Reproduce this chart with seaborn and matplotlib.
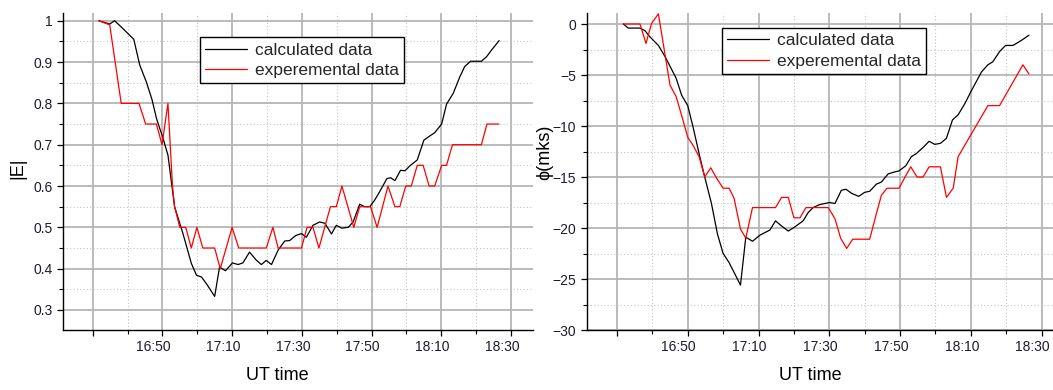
import numpy as np
import pandas as pd
import matplotlib
matplotlib.use("Agg")
import matplotlib.pyplot as plt
import matplotlib.transforms as mtransforms
from matplotlib.ticker import FixedLocator, FixedFormatter, MultipleLocator
import seaborn as sns

# ---- data (time in minutes after 16:30) ----
left_calc_t = [1.8, 4.9, 6.3, 8.2, 10.0, 11.8, 13.5, 15.4, 17.0, 18.3, 20.2, 21.6, 23.5, 25.9, 28.3,
               29.8, 31.2, 32.6, 35.0, 36.4, 38.1, 40.1, 41.7, 43.1, 45.0, 47.0, 48.4, 49.8, 51.3,
               53.2, 55.1, 56.5, 58.2, 59.9, 61.3, 63.2, 65.1, 66.6, 68.5, 69.9, 71.4, 73.3, 74.7,
               76.6, 78.0, 79.5, 80.9, 82.3, 84.4, 85.5, 86.7, 88.3, 89.6, 91.0, 93.1, 95.0, 96.5,
               98.1, 100.1, 101.5, 103.4, 105.3, 106.7, 108.4, 111.5, 113.0, 114.4, 116.6]
left_calc_v = [1.0, 0.992, 1.0, 0.985, 0.97, 0.955, 0.893, 0.852, 0.81, 0.764, 0.715, 0.675, 0.55,
               0.485, 0.413, 0.384, 0.38, 0.364, 0.333, 0.404, 0.395, 0.414, 0.41, 0.414, 0.44, 0.42,
               0.41, 0.42, 0.41, 0.445, 0.467, 0.468, 0.48, 0.485, 0.476, 0.505, 0.513, 0.51, 0.484,
               0.505, 0.498, 0.50, 0.513, 0.556, 0.55, 0.55, 0.566, 0.586, 0.618, 0.62, 0.613, 0.638,
               0.637, 0.649, 0.663, 0.711, 0.72, 0.729, 0.75, 0.798, 0.824, 0.864, 0.889, 0.902,
               0.902, 0.913, 0.929, 0.952]

left_exp_t = [1.8, 4.9, 8.2, 13.3, 15.2, 18.3, 19.9, 21.6, 22.9, 23.5, 25.0, 26.7, 28.3, 29.9, 31.6,
              35.0, 36.6, 40.0, 41.9, 49.8, 51.7, 53.2, 59.9, 61.5, 63.2, 64.9, 68.2, 69.9, 71.5,
              74.9, 76.6, 79.7, 81.6, 84.7, 86.7, 88.1, 89.8, 91.4, 93.1, 94.8, 96.5, 98.1, 100.1,
              101.5, 103.2, 111.5, 113.1, 116.5]
left_exp_v = [1.0, 0.99, 0.80, 0.80, 0.75, 0.75, 0.70, 0.80, 0.60, 0.55, 0.50, 0.50, 0.45, 0.50, 0.45,
              0.45, 0.40, 0.50, 0.45, 0.45, 0.50, 0.45, 0.45, 0.50, 0.50, 0.45, 0.55, 0.55, 0.60,
              0.50, 0.55, 0.55, 0.50, 0.60, 0.55, 0.55, 0.60, 0.60, 0.65, 0.65, 0.60, 0.60, 0.65,
              0.65, 0.70, 0.70, 0.75, 0.75]

right_calc_t = [1.8, 3.2, 6.5, 7.9, 9.3, 11.7, 13.6, 16.7, 18.3, 20.0, 21.5, 23.4, 24.8, 26.7, 28.4,
                30.0, 31.7, 34.9, 36.4, 38.3, 40.4, 43.2, 44.8, 46.5, 48.4, 49.8, 52.6, 54.0, 55.4,
                57.3, 60.1, 61.6, 63.4, 64.7, 66.3, 68.3, 70.0, 71.4, 73.3, 74.7, 76.6, 78.5, 79.7,
                81.6, 83.2, 84.6, 86.5, 88.2, 89.8, 91.4, 93.1, 94.8, 96.4, 98.3, 100.2, 103.0,
                104.8, 106.2, 108.1, 109.8, 111.9, 114.3, 116.4]
right_calc_v = [0.0, -0.4, -0.4, -0.65, -1.25, -2.1, -3.2, -5.3, -7.0, -8.0, -10.1, -13.0, -15.0,
                -17.6, -20.6, -22.5, -23.4, -25.6, -20.9, -21.3, -20.7, -20.2, -19.3, -19.8, -20.3,
                -20.0, -19.3, -18.5, -18.0, -17.7, -17.5, -17.6, -16.3, -16.2, -16.6, -16.9, -16.5,
                -16.4, -15.7, -15.5, -14.7, -14.5, -14.4, -13.9, -13.0, -12.7, -12.1, -11.5, -11.8,
                -11.7, -11.2, -9.4, -8.9, -7.8, -6.5, -4.7, -4.0, -3.7, -2.7, -2.1, -2.1, -1.6, -1.1]

right_exp_t = [1.8, 6.5, 8.2, 9.8, 11.7, 13.3, 15.0, 16.7, 18.3, 20.0, 21.5, 23.2, 24.8, 26.5, 28.3,
               30.0, 31.7, 33.1, 34.9, 36.4, 38.3, 44.8, 46.5, 48.4, 50.0, 51.7, 53.4, 59.7, 61.6,
               63.2, 64.9, 66.6, 71.4, 73.3, 74.7, 76.3, 79.7, 81.4, 83.0, 84.8, 86.5, 88.2, 91.4,
               93.1, 95.0, 96.4, 104.8, 108.1, 114.7, 116.4]
right_exp_v = [0.0, 0.0, -1.9, 0.07, 1.0, -2.4, -6.0, -7.1, -9.0, -11.1, -11.9, -13.0, -15.0, -14.1,
               -15.2, -16.1, -16.1, -17.1, -20.1, -21.0, -18.0, -18.0, -17.0, -17.0, -19.0, -19.0,
               -18.0, -18.0, -19.1, -21.0, -22.0, -21.1, -21.1, -18.6, -16.8, -16.1, -16.1, -15.0,
               -14.0, -15.0, -15.0, -14.0, -14.0, -17.0, -16.1, -13.0, -8.0, -8.0, -4.0, -4.9]

series_labels = ["calculated data", "experemental data"]
x_tick_labels = ["", "16:50", "17:10", "17:30", "17:50", "18:10", "18:30"]
x_tick_pos = [0, 20, 40, 60, 80, 100, 120]
left_y_ticks = [0.3, 0.4, 0.5, 0.6, 0.7, 0.8, 0.9, 1.0]
left_y_labels = ["0.3", "0.4", "0.5", "0.6", "0.7", "0.8", "0.9", "1"]
right_y_ticks = [-30, -25, -20, -15, -10, -5, 0]

sns.set_theme(style="white")
plt.rcParams["font.family"] = ["Liberation Sans", "DejaVu Sans"]

fig = plt.figure(figsize=(10.53, 3.90), dpi=100)
ax1 = fig.add_axes([63/1053, 1-330/390, 470/1053, (330-13.3)/390])
ax2 = fig.add_axes([586.7/1053, 1-330/390, (1053-586.7)/1053, (330-13.3)/390])

def make_df(ct, cv, et, ev):
    d1 = pd.DataFrame({"t": ct, "v": cv, "s": series_labels[0]})
    d2 = pd.DataFrame({"t": et, "v": ev, "s": series_labels[1]})
    return pd.concat([d1, d2], ignore_index=True)

df_left = make_df(left_calc_t, left_calc_v, left_exp_t, left_exp_v)
df_right = make_df(right_calc_t, right_calc_v, right_exp_t, right_exp_v)

pal = {series_labels[0]: "black", series_labels[1]: "red"}
tick_color = "#1c1c2c"

for ax, df, xlim, ylim, yt, ylab, yminor in [
        (ax1, df_left, (-8.5, 126.3), (0.2516, 1.018), left_y_ticks, "|E|", 0.05),
        (ax2, df_right, (-8.55, 123.2), (-30, 1.05), right_y_ticks, "ϕ(mks)", 2.5)]:
    sns.lineplot(data=df, x="t", y="v", hue="s", palette=pal, estimator=None, sort=False,
                 linewidth=0.9, ax=ax, legend=True)
    ax.set_xlim(*xlim)
    ax.set_ylim(*ylim)
    ax.xaxis.set_major_locator(FixedLocator(x_tick_pos))
    ax.xaxis.set_major_formatter(FixedFormatter(x_tick_labels))
    ax.xaxis.set_minor_locator(FixedLocator([10, 30, 50, 70, 90, 110]))
    ax.yaxis.set_major_locator(FixedLocator(yt))
    ax.yaxis.set_minor_locator(MultipleLocator(yminor))
    ax.grid(which="major", color="#b5b5b5", linewidth=1.3, linestyle="-")
    ax.grid(which="minor", color="#c4c4c4", linewidth=0.8, linestyle=(0, (1, 2)))
    ax.set_axisbelow(True)
    for side in ["top", "right"]:
        ax.spines[side].set_visible(False)
    for side in ["left", "bottom"]:
        ax.spines[side].set_color("black")
        ax.spines[side].set_linewidth(1.0)
    ax.tick_params(which="major", direction="out", length=4.5, width=0.9, color="black",
                   labelsize=10, labelcolor=tick_color, left=True, bottom=True, pad=3)
    ax.tick_params(which="minor", direction="out", length=2.8, width=0.8, color="black",
                   left=True, bottom=True)
    ax.set_xlabel("UT time", fontsize=13, color="black")
    ax.set_ylabel(ylab, fontsize=13, color="black")
    leg = ax.legend(handles=ax.get_legend_handles_labels()[0], labels=series_labels,
                    loc="upper left", fontsize=12.5, frameon=True, fancybox=False,
                    edgecolor="black", framealpha=1, borderpad=0.3, labelspacing=0.3,
                    handlelength=2.4, handletextpad=0.45, borderaxespad=0)
    leg.get_frame().set_linewidth(1.0)
    for line in leg.get_lines():
        line.set_linewidth(0.9)

ax1.yaxis.set_major_formatter(FixedFormatter(left_y_labels))
ax1.get_legend().set_bbox_to_anchor((0.2915, 0.924))
ax2.get_legend().set_bbox_to_anchor((0.290, 0.954))

ax1.xaxis.set_label_coords(0.457, -0.117)
ax2.xaxis.set_label_coords(0.479, -0.117)
ax1.yaxis.set_label_coords(-0.077, 0.511)
ax2.yaxis.set_label_coords(-0.072, 0.562)

# x tick labels sit slightly left of their ticks in the reference
shift = mtransforms.ScaledTranslation(-9/100, 0, fig.dpi_scale_trans)
for ax in (ax1, ax2):
    for lab in ax.get_xticklabels():
        lab.set_transform(lab.get_transform() + shift)

fig.savefig("out.png", dpi=100)
